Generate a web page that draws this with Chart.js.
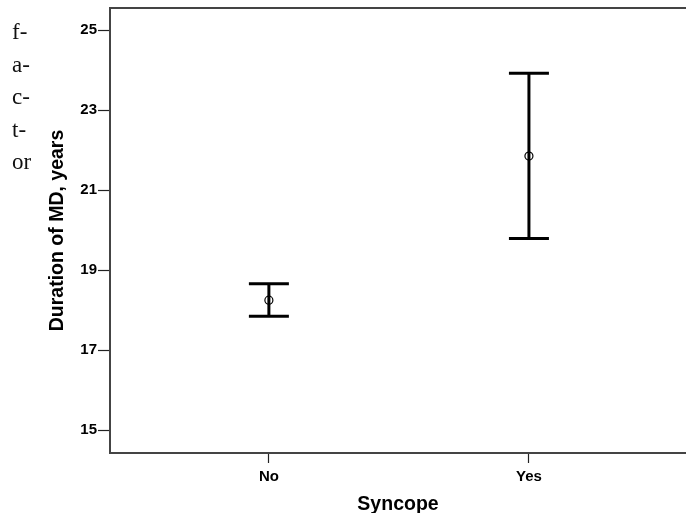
<!DOCTYPE html>
<html>
<head>
<meta charset="utf-8">
<script src="https://cdn.jsdelivr.net/npm/chart.js@4/dist/chart.umd.min.js"></script>
<style>
  html, body { margin: 0; padding: 0; background: #fff; overflow: hidden; }
  #wrap { position: relative; width: 686px; height: 513px; }
  #side {
    position: absolute; left: 12px; top: 16px;
    font-family: "Liberation Serif", "Times New Roman", serif;
    font-size: 23px; line-height: 32.5px; color: #111;
  }
</style>
</head>
<body>
<div id="wrap">
  <canvas id="errChart" width="686" height="513"></canvas>
  <div id="side">f-<br>a-<br>c-<br>t-<br>or</div>
</div>
<script>
// values
const categories = ['No', 'Yes'];
const means = [18.25, 21.85];
const lower = [17.85, 19.79];
const upper = [18.66, 23.92];
const yTicks = [15, 17, 19, 21, 23, 25];

window.addEventListener('load', setup);

function setup() {
  const ctx = document.getElementById('errChart').getContext('2d');

  // one whisker dataset per category, caps drawn as 'line' points
  const whiskers = categories.map((c, i) => ({
    type: 'scatter',
    showLine: true,
    data: [{ x: i + 1, y: lower[i] }, { x: i + 1, y: upper[i] }],
    borderColor: '#000',
    borderWidth: 3,
    pointStyle: 'line',
    pointRadius: 20,
    pointBorderWidth: 3,
    pointBorderColor: '#000'
  }));

  const meanSet = {
    type: 'scatter',
    data: means.map((m, i) => ({ x: i + 1, y: m })),
    pointStyle: 'circle',
    pointRadius: 4,
    pointBorderWidth: 1.2,
    pointBorderColor: '#000',
    pointBackgroundColor: 'rgba(0,0,0,0)'
  };

  // top edge of the frame
  const frameTop = {
    id: 'frameTop',
    afterDraw(chart) {
      const a = chart.chartArea;
      const c = chart.ctx;
      c.save();
      c.strokeStyle = '#444';
      c.lineWidth = 2;
      c.beginPath();
      c.moveTo(a.left - 1, a.top);
      c.lineTo(a.right, a.top);
      c.stroke();
      c.restore();
    }
  };

  const tickFont = { family: 'Liberation Sans, Arial, sans-serif', size: 15, weight: 'bold' };
  const titleFont = { family: 'Liberation Sans, Arial, sans-serif', size: 19.5, weight: 'bold' };

  new Chart(ctx, {
    type: 'scatter',
    data: { datasets: [...whiskers, meanSet] },
    options: {
      responsive: false,
      animation: false,
      layout: { autoPadding: false, padding: { top: 8, right: 0, bottom: 0, left: 0 } },
      plugins: { legend: { display: false }, tooltip: { enabled: false } },
      scales: {
        x: {
          type: 'linear',
          min: 0.389,
          max: 2.604,
          afterBuildTicks: s => { s.ticks = categories.map((c, i) => ({ value: i + 1 })); },
          afterFit: s => { s.height = 60; s.paddingLeft = 0; s.paddingRight = 0; },
          ticks: {
            callback: v => categories[v - 1],
            color: '#000',
            font: tickFont,
            padding: 5,
            autoSkip: false,
            maxRotation: 0
          },
          grid: { drawOnChartArea: false, tickLength: 10, tickColor: '#222', tickWidth: 1.2 },
          border: { display: true, color: '#444', width: 2 },
          title: { display: true, text: 'Syncope', color: '#000', font: titleFont, padding: { top: 0, bottom: -3 } }
        },
        y: {
          min: 14.43,
          max: 25.55,
          afterBuildTicks: s => { s.ticks = yTicks.map(v => ({ value: v })); },
          afterFit: s => { s.width = 110; s.paddingTop = 0; s.paddingBottom = 0; },
          ticks: { color: '#000', font: tickFont, padding: 1 },
          grid: { drawOnChartArea: false, tickLength: 12, tickColor: '#222', tickWidth: 1.2 },
          border: { display: true, color: '#444', width: 2 },
          title: { display: true, text: 'Duration of MD, years', color: '#000', font: titleFont, padding: { top: 46, bottom: 0 } }
        }
      }
    },
    plugins: [frameTop]
  });
}
</script>
</body>
</html>
